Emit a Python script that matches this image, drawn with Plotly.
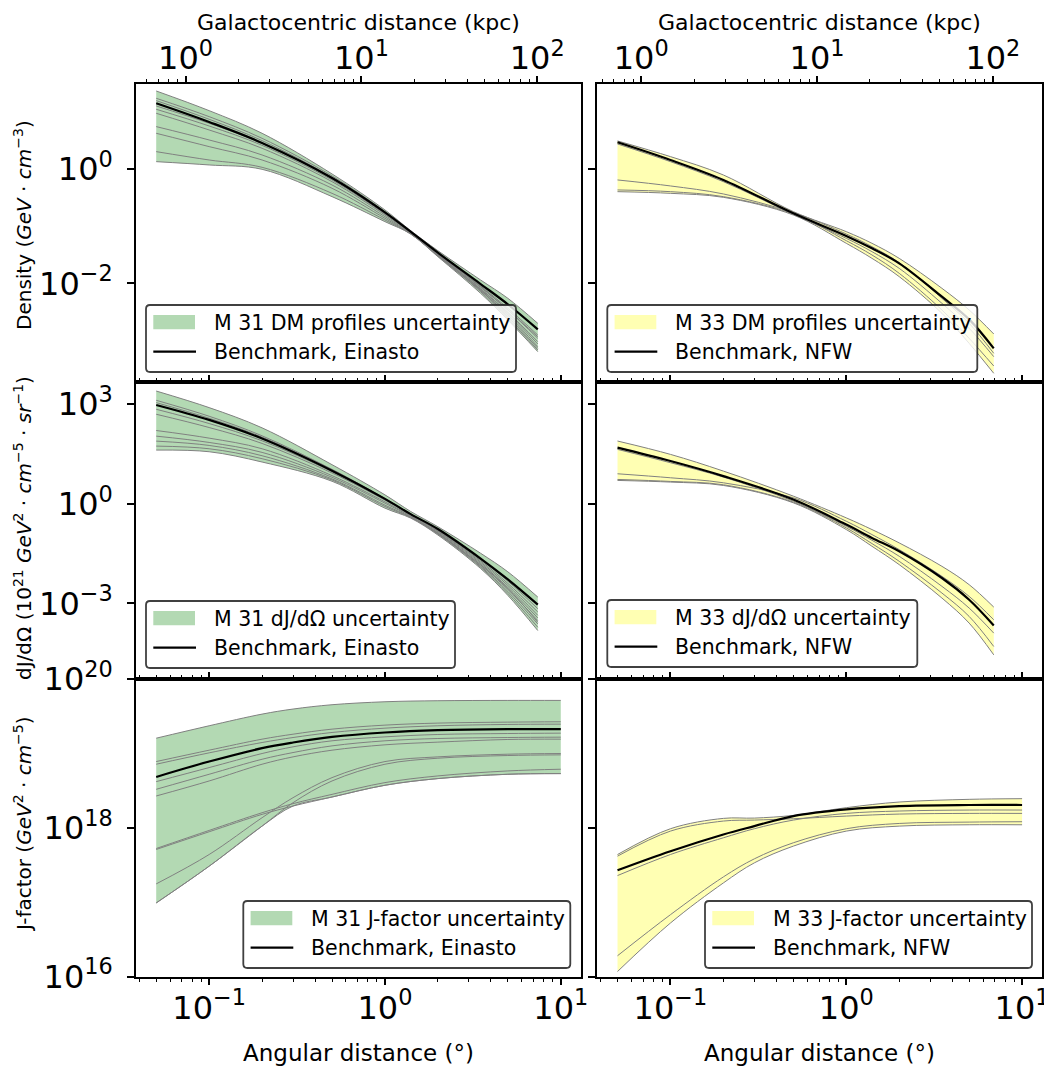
import numpy as np
import plotly.graph_objects as go

# The page body adds an 8px margin, so the figure is drawn 8px smaller and
# all screen positions below are converted with that offset.
SCREEN_W, SCREEN_H = 1052, 1072
OFF = 8
W, H = SCREEN_W - OFF, SCREEN_H - OFF
FONT = "DejaVu Sans"

# ---------------- data (stored as log10) ----------------
# angular distance grids (degrees)
ang_m31_prof = [0.05, 0.1, 0.2, 0.5, 1.0, 1.4, 2.0, 3.5, 5.0, 7.4]
ang_m33_prof = [0.05, 0.1, 0.2, 0.5, 1.0, 1.4, 2.0, 3.5, 5.0, 6.9]
ang_jfac = [0.05, 0.1, 0.2, 0.3, 0.5, 1.0, 2.0, 5.0, 10.0]

# distances used for the galactocentric (top) axis, kpc
dist_m31_kpc = 780.0
dist_m33_kpc = 840.0

# --- M31 density, log10(GeV cm^-3)
m31_rho_bench = [1.149, 0.822, 0.455, -0.157, -0.758, -1.096, -1.464, -2.012, -2.367, -2.805]
m31_rho_upper = [1.364, 1.020, 0.624, -0.087, -0.717, -1.079, -1.429, -1.942, -2.262, -2.700]
m31_rho_lower = [0.128, 0.070, -0.006, -0.484, -0.921, -1.137, -1.534, -2.175, -2.641, -3.195]
m31_rho_profiles = [
    [1.236, 0.915, 0.536, -0.122, -0.746, -1.096, -1.475, -2.047, -2.437, -2.904],
    [1.195, 0.869, 0.496, -0.146, -0.764, -1.102, -1.487, -2.070, -2.466, -2.962],
    [1.102, 0.799, 0.449, -0.169, -0.776, -1.108, -1.499, -2.093, -2.507, -3.020],
    [1.044, 0.752, 0.414, -0.192, -0.787, -1.114, -1.510, -2.105, -2.525, -3.061],
    [0.974, 0.682, 0.362, -0.222, -0.805, -1.120, -1.522, -2.128, -2.554, -3.108],
    [0.741, 0.507, 0.245, -0.280, -0.834, -1.125, -1.487, -2.058, -2.466, -2.933],
    [0.624, 0.391, 0.157, -0.338, -0.863, -1.131, -1.504, -2.117, -2.583, -3.137],
    [0.303, 0.157, 0.029, -0.426, -0.892, -1.137, -1.522, -2.146, -2.612, -3.166],
]

# --- M33 density
m33_rho_bench = [0.466, 0.157, -0.192, -0.776, -1.172, -1.388, -1.650, -2.233, -2.630, -3.137]
m33_rho_upper = [0.490, 0.216, -0.105, -0.746, -1.096, -1.300, -1.563, -2.087, -2.466, -2.886]
m33_rho_lower = [-0.397, -0.426, -0.496, -0.805, -1.300, -1.563, -1.883, -2.525, -3.050, -3.574]
m33_rho_profiles = [
    [0.437, 0.128, -0.222, -0.793, -1.213, -1.446, -1.738, -2.350, -2.787, -3.283],
    [-0.192, -0.297, -0.437, -0.764, -1.137, -1.359, -1.638, -2.262, -2.700, -3.224],
    [-0.367, -0.397, -0.484, -0.787, -1.254, -1.504, -1.825, -2.466, -2.962, -3.446],
]

# --- M31 dJ/dOmega, log10(1e21 GeV^2 cm^-5 sr^-1)
m31_djdo_bench = [2.98, 2.53, 1.97, 1.00, 0.15, -0.31, -0.76, -1.65, -2.28, -3.04]
m31_djdo_upper = [3.40, 2.90, 2.29, 1.18, 0.27, -0.23, -0.69, -1.49, -2.05, -2.81]
m31_djdo_lower = [1.62, 1.57, 1.26, 0.68, -0.13, -0.43, -0.94, -1.95, -2.76, -3.82]
m31_djdo_profiles = [
    [3.12, 2.64, 2.05, 1.04, 0.16, -0.30, -0.78, -1.68, -2.33, -3.16],
    [3.05, 2.58, 2.01, 1.02, 0.15, -0.31, -0.80, -1.72, -2.40, -3.26],
    [2.85, 2.42, 1.90, 0.97, 0.13, -0.32, -0.82, -1.76, -2.46, -3.36],
    [2.70, 2.30, 1.82, 0.93, 0.11, -0.33, -0.84, -1.80, -2.52, -3.44],
    [2.21, 1.98, 1.66, 0.85, 0.06, -0.36, -0.87, -1.84, -2.58, -3.52],
    [2.04, 1.85, 1.55, 0.80, 0.02, -0.38, -0.89, -1.88, -2.64, -3.62],
    [1.89, 1.76, 1.45, 0.75, -0.04, -0.40, -0.91, -1.91, -2.70, -3.72],
    [1.74, 1.66, 1.36, 0.72, -0.08, -0.41, -0.90, -1.84, -2.55, -3.57],
]

# --- M33 dJ/dOmega
m33_djdo_bench = [1.692, 1.289, 0.836, 0.131, -0.625, -1.027, -1.430, -2.236, -2.890, -3.666]
m33_djdo_upper = [1.893, 1.490, 0.987, 0.232, -0.423, -0.775, -1.178, -1.883, -2.437, -3.112]
m33_djdo_lower = [0.705, 0.655, 0.554, 0.030, -0.775, -1.279, -1.833, -2.840, -3.595, -4.552]
m33_djdo_profiles = [
    [1.641, 1.239, 0.806, 0.081, -0.675, -1.098, -1.581, -2.487, -3.142, -3.897],
    [0.906, 0.785, 0.634, 0.181, -0.524, -0.926, -1.380, -2.185, -2.790, -3.495],
    [0.735, 0.675, 0.574, 0.050, -0.725, -1.198, -1.732, -2.689, -3.394, -4.300],
]

# --- M31 J-factor, log10(GeV^2 cm^-5)
m31_jfac_bench = [18.683, 18.890, 19.070, 19.146, 19.222, 19.281, 19.312, 19.326, 19.326]
m31_jfac_upper = [19.204, 19.371, 19.528, 19.596, 19.654, 19.694, 19.708, 19.712, 19.712]
m31_jfac_lower = [16.989, 17.483, 18.022, 18.292, 18.413, 18.571, 18.661, 18.719, 18.728]
m31_jfac_profiles = [
    [18.890, 19.043, 19.191, 19.258, 19.326, 19.380, 19.407, 19.420, 19.425],
    [18.854, 19.007, 19.146, 19.213, 19.281, 19.339, 19.371, 19.389, 19.393],
    [18.620, 18.809, 18.998, 19.088, 19.169, 19.222, 19.254, 19.267, 19.272],
    [18.517, 18.719, 18.921, 19.011, 19.101, 19.169, 19.200, 19.213, 19.218],
    [18.427, 18.629, 18.854, 18.953, 19.043, 19.115, 19.151, 19.187, 19.191],
    [17.721, 17.964, 18.202, 18.324, 18.449, 18.607, 18.697, 18.764, 18.787],
    [17.245, 17.640, 18.135, 18.404, 18.674, 18.890, 18.953, 18.989, 18.998],
    [16.989, 17.483, 18.022, 18.337, 18.629, 18.854, 18.935, 18.971, 18.980],
    [17.708, 17.946, 18.180, 18.292, 18.413, 18.571, 18.661, 18.719, 18.728],
]

# --- M33 J-factor
m33_jfac_bench = [17.429, 17.685, 17.910, 18.022, 18.157, 18.247, 18.292, 18.306, 18.306]
m33_jfac_upper = [17.640, 17.987, 18.126, 18.130, 18.166, 18.270, 18.346, 18.382, 18.391]
m33_jfac_lower = [16.067, 16.719, 17.258, 17.528, 17.753, 17.955, 18.022, 18.040, 18.040]
m33_jfac_profiles = [
    [17.357, 17.640, 17.865, 17.987, 18.103, 18.193, 18.225, 18.238, 18.238],
    [16.279, 16.831, 17.339, 17.582, 17.798, 17.987, 18.058, 18.076, 18.081],
    [17.618, 17.955, 18.090, 18.103, 18.121, 18.157, 18.184, 18.193, 18.193],
]

# tick labels
rho_ticks = [1e-2, 1e0]
rho_ticktext = ["10<sup>\u22122</sup>", "10<sup>0</sup>"]
djdo_ticks = [1e-3, 1e0, 1e3]
djdo_ticktext = ["10<sup>\u22123</sup>", "10<sup>0</sup>", "10<sup>3</sup>"]
jfac_ticks = [1e16, 1e18, 1e20]
jfac_ticktext = ["10<sup>16</sup>", "10<sup>18</sup>", "10<sup>20</sup>"]
ang_ticks = [0.1, 1, 10]
ang_ticktext = ["10<sup>\u22121</sup>", "10<sup>0</sup>", "10<sup>1</sup>"]
kpc_ticks = [1, 10, 100]
kpc_ticktext = ["10<sup>0</sup>", "10<sup>1</sup>", "10<sup>2</sup>"]

GREEN = "rgb(179,217,179)"
YELLOW = "rgb(255,255,179)"

# ---------------- figure ----------------
fig = go.Figure()


def add_panel(xa, ya, x, upper, lower, profiles, bench, fill):
    common = dict(xaxis=xa, yaxis=ya, mode="lines", showlegend=False, hoverinfo="skip")
    fig.add_trace(go.Scatter(x=x, y=np.power(10.0, lower),
                             line=dict(color="gray", width=1, shape="spline"), **common))
    fig.add_trace(go.Scatter(x=x, y=np.power(10.0, upper), fill="tonexty", fillcolor=fill,
                             line=dict(color="gray", width=1, shape="spline"), **common))
    for p in profiles:
        fig.add_trace(go.Scatter(x=x, y=np.power(10.0, p),
                                 line=dict(color="gray", width=1, shape="spline"), **common))
    fig.add_trace(go.Scatter(x=x, y=np.power(10.0, bench),
                             line=dict(color="black", width=2.2, shape="spline"), **common))


add_panel("x", "y", ang_m31_prof, m31_rho_upper, m31_rho_lower, m31_rho_profiles, m31_rho_bench, GREEN)
add_panel("x2", "y2", ang_m33_prof, m33_rho_upper, m33_rho_lower, m33_rho_profiles, m33_rho_bench, YELLOW)
add_panel("x3", "y3", ang_m31_prof, m31_djdo_upper, m31_djdo_lower, m31_djdo_profiles, m31_djdo_bench, GREEN)
add_panel("x4", "y4", ang_m33_prof, m33_djdo_upper, m33_djdo_lower, m33_djdo_profiles, m33_djdo_bench, YELLOW)
add_panel("x5", "y5", ang_jfac, m31_jfac_upper, m31_jfac_lower, m31_jfac_profiles, m31_jfac_bench, GREEN)
add_panel("x6", "y6", ang_jfac, m33_jfac_upper, m33_jfac_lower, m33_jfac_profiles, m33_jfac_bench, YELLOW)

# empty traces so that the secondary (galactocentric distance) axes are created
for xa, ya in (("x7", "y"), ("x8", "y2")):
    fig.add_trace(go.Scatter(x=[], y=[], xaxis=xa, yaxis=ya, mode="lines",
                             showlegend=False, hoverinfo="skip"))


# ---------------- layout geometry (screen pixels -> paper) ----------------
def px(v):
    return (v - OFF) / W


def py(v):
    return 1 - (v - OFF) / H


XL = [px(136), px(581)]
XR = [px(597.3), px(1042.3)]
ROWS_PX = [(84, 381.5), (381.5, 679), (679, 976.5)]
YD = [[py(b), py(t)] for (t, b) in ROWS_PX]

ANG_RANGE = [-1.416, 1.115]
minor_vals = [k * 10.0 ** e for e in range(-3, 4) for k in range(2, 10)]
tickfont = dict(family=FONT, size=32, color="black")


def xcfg(domain, anchor, labels, tdir):
    return dict(type="log", domain=domain, anchor=anchor, range=ANG_RANGE, automargin=False,
                showline=True, linecolor="black", linewidth=1.7, mirror=True,
                ticks=tdir, ticklen=7, tickwidth=1.5, tickcolor="black",
                tickmode="array", tickvals=ang_ticks, ticktext=ang_ticktext,
                showticklabels=labels, tickfont=tickfont, ticklabelstandoff=-5,
                minor=dict(tickmode="array", tickvals=minor_vals, ticks=tdir, ticklen=4,
                           tickwidth=1.1, tickcolor="black", showgrid=False),
                showgrid=False, zeroline=False)


def ycfg(domain, anchor, rng, tv, tt, labels):
    return dict(type="log", domain=domain, anchor=anchor, range=rng, automargin=False,
                showline=True, linecolor="black", linewidth=1.7, mirror=True,
                ticks="outside", ticklen=7, tickwidth=1.5, tickcolor="black",
                tickmode="array", tickvals=tv, ticktext=tt, showticklabels=labels,
                tickfont=tickfont, ticklabelstandoff=8,
                showgrid=False, zeroline=False)


def topcfg(overlay, anchor, dist_kpc):
    shift = np.log10(dist_kpc * np.pi / 180.0)
    return dict(type="log", overlaying=overlay, anchor=anchor, side="top", automargin=False,
                range=[ANG_RANGE[0] + shift, ANG_RANGE[1] + shift],
                showline=False, ticks="outside", ticklen=7, tickwidth=1.5, tickcolor="black",
                tickmode="array", tickvals=kpc_ticks, ticktext=kpc_ticktext,
                tickfont=tickfont, ticklabelstandoff=-6,
                minor=dict(tickmode="array", tickvals=minor_vals, ticks="outside", ticklen=4,
                           tickwidth=1.1, tickcolor="black", showgrid=False),
                showgrid=False, zeroline=False)


RHO_RANGE = [-3.717, 1.486]
DJ_RANGE = [-5.28, 3.687]
J_RANGE = [16, 20]

layout = dict(
    width=W, height=H, margin=dict(l=0, r=0, t=0, b=0, autoexpand=False),
    paper_bgcolor="white", plot_bgcolor="white",
    font=dict(family=FONT, color="black"),
    showlegend=False,
    xaxis=xcfg(XL, "y", False, "inside"),
    xaxis2=xcfg(XR, "y2", False, "inside"),
    xaxis3=xcfg(XL, "y3", False, "inside"),
    xaxis4=xcfg(XR, "y4", False, "inside"),
    xaxis5=xcfg(XL, "y5", True, "outside"),
    xaxis6=xcfg(XR, "y6", True, "outside"),
    xaxis7=topcfg("x", "y", dist_m31_kpc),
    xaxis8=topcfg("x2", "y2", dist_m33_kpc),
    yaxis=ycfg(YD[0], "x", RHO_RANGE, rho_ticks, rho_ticktext, True),
    yaxis2=ycfg(YD[0], "x2", RHO_RANGE, rho_ticks, rho_ticktext, False),
    yaxis3=ycfg(YD[1], "x3", DJ_RANGE, djdo_ticks, djdo_ticktext, True),
    yaxis4=ycfg(YD[1], "x4", DJ_RANGE, djdo_ticks, djdo_ticktext, False),
    yaxis5=ycfg(YD[2], "x5", J_RANGE, jfac_ticks, jfac_ticktext, True),
    yaxis6=ycfg(YD[2], "x6", J_RANGE, jfac_ticks, jfac_ticktext, False),
)
fig.update_layout(**layout)

annotations = []
shapes = []


def text_ann(text, xpx, ypx, size, angle=0, xanchor="center", yanchor="middle"):
    annotations.append(dict(text=text, x=px(xpx), y=py(ypx), xref="paper", yref="paper",
                            showarrow=False, textangle=angle, xanchor=xanchor, yanchor=yanchor,
                            font=dict(family=FONT, size=size, color="black")))


# axis titles
for cx in (358.5, 819.8):
    text_ann("Galactocentric distance (kpc)", cx, OFF, 22, yanchor="top")
    text_ann("Angular distance (\u00b0)", cx, 1053, 23)
text_ann("Density (<i>GeV</i> \u00b7 <i>cm</i><sup>\u22123</sup>)", 23, 225, 20, angle=-90)
text_ann("dJ/d\u03a9 (10<sup>21</sup> <i>GeV</i><sup>2</sup> \u00b7 <i>cm</i><sup>\u22125</sup>"
         " \u00b7 <i>sr</i><sup>\u22121</sup>)", 23, 528, 20, angle=-90)
text_ann("J-factor (<i>GeV</i><sup>2</sup> \u00b7 <i>cm</i><sup>\u22125</sup>)", 23, 824, 20, angle=-90)


def add_legend(left, top, width, label_fill, label_line, fillcolor):
    height = 67
    r = 4
    x0, x1, y0, y1 = left, left + width, top, top + height
    path = (f"M {px(x0 + r)},{py(y0)} L {px(x1 - r)},{py(y0)} Q {px(x1)},{py(y0)} {px(x1)},{py(y0 + r)} "
            f"L {px(x1)},{py(y1 - r)} Q {px(x1)},{py(y1)} {px(x1 - r)},{py(y1)} "
            f"L {px(x0 + r)},{py(y1)} Q {px(x0)},{py(y1)} {px(x0)},{py(y1 - r)} "
            f"L {px(x0)},{py(y0 + r)} Q {px(x0)},{py(y0)} {px(x0 + r)},{py(y0)} Z")
    shapes.append(dict(type="path", path=path, xref="paper", yref="paper",
                       fillcolor="rgba(255,255,255,0.8)",
                       line=dict(color="rgba(30,30,30,0.85)", width=1.8), layer="above"))
    shapes.append(dict(type="rect", xref="paper", yref="paper",
                       x0=px(left + 7.3), x1=px(left + 49), y0=py(top + 10), y1=py(top + 24.3),
                       fillcolor=fillcolor, line=dict(width=0), layer="above"))
    shapes.append(dict(type="line", xref="paper", yref="paper",
                       x0=px(left + 7.3), x1=px(left + 50), y0=py(top + 46.7), y1=py(top + 46.7),
                       line=dict(color="black", width=2.2), layer="above"))
    text_ann(label_fill, left + 65.7, top + 17.7, 20.5, xanchor="left")
    text_ann(label_line, left + 65.7, top + 46.7, 20.5, xanchor="left")


add_legend(146, 305, 370, "M 31 DM profiles uncertainty", "Benchmark, Einasto", GREEN)
add_legend(607.3, 305, 370, "M 33 DM profiles uncertainty", "Benchmark, NFW", YELLOW)
add_legend(146, 601, 309, "M 31 dJ/d\u03a9 uncertainty", "Benchmark, Einasto", GREEN)
add_legend(607.3, 600, 310, "M 33 dJ/d\u03a9 uncertainty", "Benchmark, NFW", YELLOW)
add_legend(243.3, 901, 327, "M 31 J-factor uncertainty", "Benchmark, Einasto", GREEN)
add_legend(705, 901, 327, "M 33 J-factor uncertainty", "Benchmark, NFW", YELLOW)

fig.update_layout(annotations=annotations, shapes=shapes)
fig.write_html("out.html")
